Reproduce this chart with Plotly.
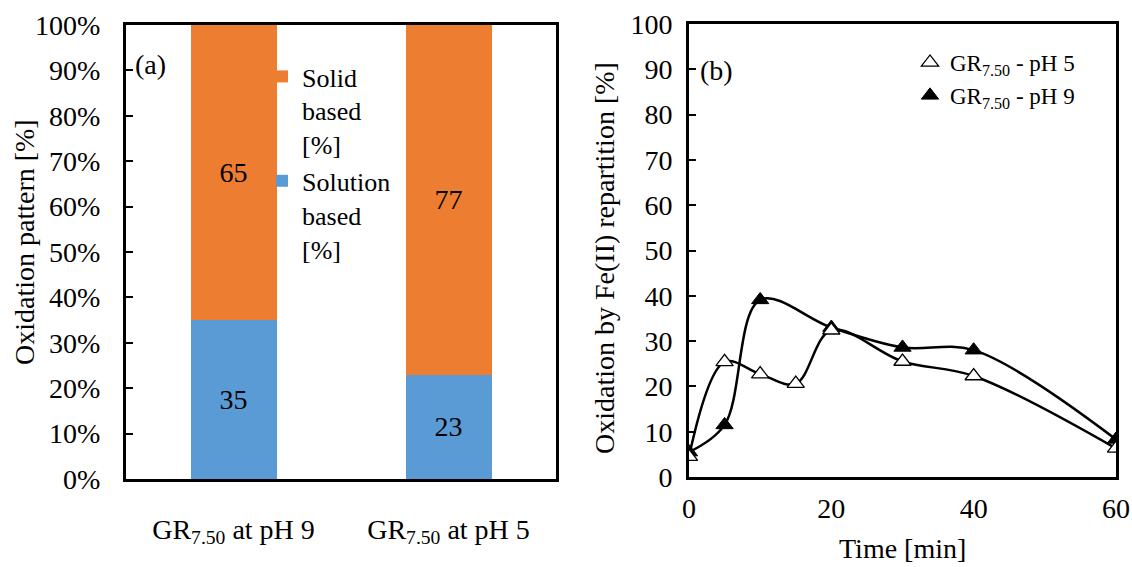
import plotly.graph_objects as go

# ---- data ----
# (a) oxidation pattern, stacked shares in %
categories = ["GR<sub>7.50</sub> at pH 9", "GR<sub>7.50</sub> at pH 5"]
solution_based = [35, 23]
solid_based = [65, 77]

# (b) oxidation by Fe(II) repartition [%] vs time [min]
time_ph5 = [0, 5, 10, 15, 20, 30, 40, 60]
ox_ph5 = [4.5, 25.4, 22.7, 20.6, 32.4, 25.5, 22.3, 6.3]
time_ph9 = [0, 5, 10, 20, 30, 40, 60]
ox_ph9 = [5.5, 11.5, 39.1, 33.0, 28.6, 28.0, 8.3]

y_ticks_a = [0, 10, 20, 30, 40, 50, 60, 70, 80, 90, 100]
y_labels_a = ["0%", "10%", "20%", "30%", "40%", "50%",
              "60%", "70%", "80%", "90%", "100%"]
y_ticks_b = [0, 10, 20, 30, 40, 50, 60, 70, 80, 90, 100]
x_ticks_b = [0, 20, 40, 60]

W, H = 1132, 567
FONT = "Liberation Serif, Times New Roman, DejaVu Serif, serif"
ORANGE = "#ED7D31"
BLUE = "#5B9BD5"


def px_x(p):
    return p / W


def px_y(p):
    return 1 - p / H


fig = go.Figure()

# ---- panel (a): stacked bars ----
fig.add_trace(go.Bar(
    x=[0, 1], y=solution_based, name="Solution<br>based<br>[%]",
    marker=dict(color=BLUE, line=dict(width=0)), width=0.4,
    text=[str(v) for v in solution_based], textposition="inside",
    insidetextanchor="middle", constraintext="none",
    textfont=dict(family=FONT, size=28, color="black"),
    xaxis="x", yaxis="y", legend="legend",
))
fig.add_trace(go.Bar(
    x=[0, 1], y=solid_based, name="Solid<br>based<br>[%]",
    marker=dict(color=ORANGE, line=dict(width=0)), width=0.4,
    text=[str(v) for v in solid_based], textposition="inside",
    insidetextanchor="middle", constraintext="none",
    textfont=dict(family=FONT, size=28, color="black"),
    xaxis="x", yaxis="y", legend="legend",
))

# ---- panel (b): smoothed curves with triangle markers ----
line_style = dict(color="black", width=2.5, shape="spline", smoothing=1)
fig.add_trace(go.Scatter(
    x=time_ph5, y=ox_ph5, mode="lines", line=line_style,
    showlegend=False, xaxis="x2", yaxis="y2", hoverinfo="skip",
))
fig.add_trace(go.Scatter(
    x=time_ph9, y=ox_ph9, mode="lines", line=line_style,
    showlegend=False, xaxis="x2", yaxis="y2", hoverinfo="skip",
))
fig.add_trace(go.Scatter(
    x=time_ph9, y=ox_ph9, mode="markers", name="GR<sub>7.50</sub> - pH 9",
    marker=dict(symbol="triangle-up", size=15, color="black",
                line=dict(color="black", width=1)),
    xaxis="x2", yaxis="y2", legend="legend2", legendrank=2,
))
fig.add_trace(go.Scatter(
    x=time_ph5, y=ox_ph5, mode="markers", name="GR<sub>7.50</sub> - pH 5",
    marker=dict(symbol="triangle-up", size=15, color="white",
                line=dict(color="black", width=1.3)),
    xaxis="x2", yaxis="y2", legend="legend2", legendrank=1,
))

axis_common = dict(showline=True, mirror=True, linecolor="black", linewidth=3,
                   showgrid=False, zeroline=False, automargin=False,
                   tickfont=dict(family=FONT, size=28, color="black"))

annotations = [
    dict(text="(a)", x=px_x(150), y=px_y(64), xref="paper", yref="paper",
         showarrow=False, xanchor="center", yanchor="middle",
         font=dict(family=FONT, size=28, color="black")),
    dict(text="(b)", x=px_x(716), y=px_y(70), xref="paper", yref="paper",
         showarrow=False, xanchor="center", yanchor="middle",
         font=dict(family=FONT, size=28, color="black")),
    dict(text="Oxidation pattern [%]", x=px_x(24), y=px_y(242),
         xref="paper", yref="paper", showarrow=False, textangle=-90,
         xanchor="center", yanchor="middle",
         font=dict(family=FONT, size=28, color="black")),
    dict(text="Oxidation by Fe(II) repartition [%]", x=px_x(604), y=px_y(258),
         xref="paper", yref="paper", showarrow=False, textangle=-90,
         xanchor="center", yanchor="middle",
         font=dict(family=FONT, size=28, color="black")),
    dict(text="Time [min]", x=px_x(902), y=px_y(548),
         xref="paper", yref="paper", showarrow=False,
         xanchor="center", yanchor="middle",
         font=dict(family=FONT, size=28, color="black")),
]

fig.update_layout(
    template="none",
    width=W, height=H,
    margin=dict(l=0, r=0, t=0, b=0, pad=0),
    paper_bgcolor="white", plot_bgcolor="white",
    font=dict(family=FONT, color="black"),
    barmode="stack",
    xaxis=dict(axis_common, domain=[px_x(126), px_x(556)], range=[-0.5, 1.5],
               tickmode="array", tickvals=[0, 1], ticktext=categories, ticks="",
               ticklabelstandoff=23, anchor="y"),
    yaxis=dict(axis_common, domain=[px_y(479), px_y(25)], range=[0, 100],
               tickmode="array", tickvals=y_ticks_a, ticktext=y_labels_a,
               ticks="inside", ticklen=7, tickwidth=1.5, tickcolor="black",
               ticklabelstandoff=17, anchor="x"),
    xaxis2=dict(axis_common, domain=[px_x(689), px_x(1116)], range=[0, 60],
                tickmode="array", tickvals=x_ticks_b, ticks="",
                ticklabelstandoff=4, anchor="y2"),
    yaxis2=dict(axis_common, domain=[px_y(477), px_y(24)], range=[0, 100],
                tickmode="array", tickvals=y_ticks_b,
                ticks="inside", ticklen=7, tickwidth=1.5,
                tickcolor="black", ticklabelstandoff=8, anchor="x2"),
    legend=dict(x=px_x(262), y=px_y(53), xanchor="left", yanchor="top",
                bgcolor="rgba(0,0,0,0)", borderwidth=0, valign="top",
                font=dict(family=FONT, size=26, color="black"),
                tracegroupgap=0, itemwidth=30),
    legend2=dict(x=px_x(910), y=px_y(41), xanchor="left", yanchor="top",
                 bgcolor="rgba(0,0,0,0)", borderwidth=0,
                 font=dict(family=FONT, size=23, color="black"),
                 tracegroupgap=0, itemwidth=30),
    annotations=annotations,
    showlegend=True,
)

fig.write_html("out.html")
